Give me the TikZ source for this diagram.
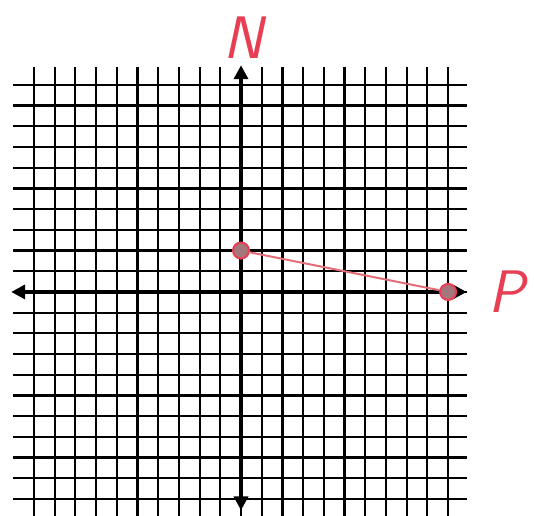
\documentclass[tikz,border=0pt]{standalone}
\usetikzlibrary{arrows.meta}
\definecolor{penred}{RGB}{232,62,84}
\definecolor{linered}{RGB}{226,110,120}
\begin{document}
\begin{tikzpicture}[x=10.35pt,y=10.35pt,
  gridline/.style={black,line width=1.1pt},
  axisline/.style={black,line width=2.2pt,{Triangle[length=7pt,width=7pt]}-{Triangle[length=7pt,width=7pt]}},
  ptmark/.style={circle,draw=penred,fill=penred!45!black!60,line width=1pt,minimum size=8pt,inner sep=0pt},
  handlabel/.style={text=penred,font=\sffamily\itshape\fontsize{30}{30}\selectfont,inner sep=0pt}]
\useasboundingbox (-11.64,-10.82) rectangle (14.15,14.1);
% grid
\foreach \i in {-10,...,10} {
  \draw[gridline] (\i,-10.9) -- (\i,10.85);
  \draw[gridline] (-11,\i) -- (10.9,\i);
}
% axes
\coordinate (xl) at (-11.1,0);
\coordinate (xr) at (10.9,0);
\coordinate (yb) at (0,-10.55);
\coordinate (yt) at (0,10.95);
\draw[axisline] (xl) -- (xr);
\draw[axisline] (yb) -- (yt);
% points
\node[ptmark] (a) at (0,2) {};
\node[ptmark] (p) at (10,0) {};
\draw[linered,line width=1pt] (a) -- (p);
% labels
\node[handlabel] (nlab) at (0.1,12.3) {N};
\node[handlabel] (plab) at (12.8,0.0) {P};
\end{tikzpicture}
\end{document}
